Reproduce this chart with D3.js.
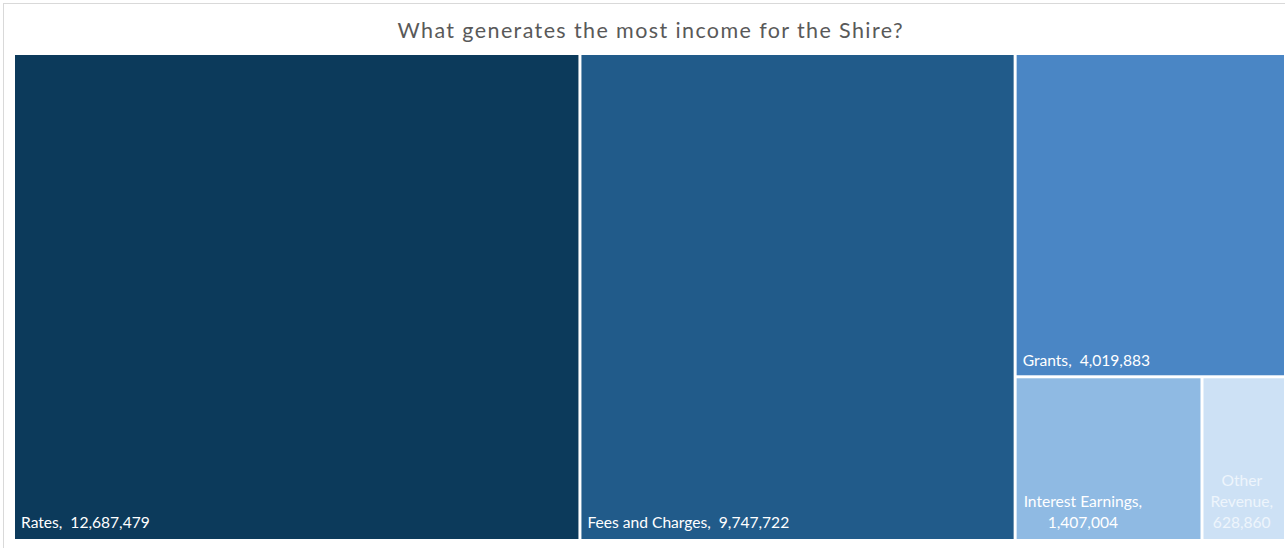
<!DOCTYPE html>
<html>
<head>
<meta charset="utf-8">
<script src="https://cdn.jsdelivr.net/npm/d3@7"></script>
<style>
  body { margin: 0; background: #fff; }
  svg text { font-family: Lato, "Open Sans", sans-serif; }
</style>
</head>
<body>
<div id="chart"></div>
<script>
//- Data
const categories = ["Rates", "Fees and Charges", "Grants", "Interest Earnings", "Other Revenue"];
const values = [12687479, 9747722, 4019883, 1407004, 628860];
const colours = ["#0c3a5b", "#215b8a", "#4a86c5", "#8fbae3", "#cde1f5"];
const labelColours = ["#ffffff", "#ffffff", "#ffffff", "#ffffff", "#eef5fc"];

const TITLE = "What generates the most income for the Shire?";

//- Layout
const svgWidth = 1285, svgHeight = 548;
const area = { left: 15, top: 55, right: 1284, bottom: 539 };
const LABELSIZE = "15.6px";

const svg = d3.select("#chart").append("svg")
    .attr("width", svgWidth)
    .attr("height", svgHeight);

// chart border
svg.append("rect")
    .attr("x", 3.5).attr("y", 3.5)
    .attr("width", svgWidth + 10).attr("height", svgHeight + 10)
    .attr("fill", "none")
    .attr("stroke", "#d9d9d9");

// title; Calibri is not available so stretch the spacing to its width
svg.append("text")
    .attr("x", 650).attr("y", 38)
    .attr("text-anchor", "middle")
    .attr("fill", "#595959")
    .attr("textLength", 505)
    .attr("lengthAdjust", "spacing")
    .style("font-size", "21.5px")
    .text(TITLE);

//- Treemap
const rows = categories.map((c, i) => ({ name: c, value: values[i], colour: colours[i], label: labelColours[i] }));

const root = d3.hierarchy({ children: rows })
    .sum(d => d.value || 0)
    .sort((a, b) => b.value - a.value);

d3.treemap()
    .tile(d3.treemapSquarify.ratio(1))
    .size([area.right - area.left, area.bottom - area.top])
    .paddingInner(3)(root);

const g = svg.append("g").attr("transform", `translate(${area.left}, ${area.top})`);

const cell = g.selectAll("g.cell")
    .data(root.leaves())
    .enter().append("g")
    .attr("class", "cell");

cell.append("rect")
    .attr("x", d => d.x0)
    .attr("y", d => d.y0)
    .attr("width", d => d.x1 - d.x0)
    .attr("height", d => d.y1 - d.y0)
    .attr("fill", d => d.data.colour);

const fmt = d3.format(",");
const lineHeight = 21;

//- Labels: single line when it fits, otherwise wrapped and centred
cell.each(function(d) {
    const sel = d3.select(this);
    const w = d.x1 - d.x0;
    const full = `${d.data.name},  ${fmt(d.data.value)}`;
    const bottomGap = d.y1 < 400 ? 9 : 11;
    const t = sel.append("text")
        .attr("fill", d.data.label)
        .style("font-size", LABELSIZE)
        .attr("xml:space", "preserve");

    t.text(full).attr("x", d.x0 + 6).attr("y", d.y1 - bottomGap);
    if (t.node().getComputedTextLength() < w - 12) return;

    // wrap words into lines
    const words = `${d.data.name}, ${fmt(d.data.value)}`.split(" ");
    const lines = [];
    let cur = "";
    t.text("");
    words.forEach(wd => {
        const test = cur ? cur + " " + wd : wd;
        t.text(test);
        if (t.node().getComputedTextLength() > w - 12 && cur) {
            lines.push(cur);
            cur = wd;
        } else {
            cur = test;
        }
    });
    lines.push(cur);
    t.text(null);

    // block is left-aligned to the cell with lines centred within it
    let maxW = 0;
    const tmp = sel.append("text").style("font-size", LABELSIZE);
    lines.forEach(l => { tmp.text(l); maxW = Math.max(maxW, tmp.node().getComputedTextLength()); });
    tmp.remove();
    const cx = d.x0 + 7 + maxW / 2;
    t.attr("text-anchor", "middle");
    lines.forEach((l, i) => {
        t.append("tspan")
            .attr("x", cx)
            .attr("y", d.y1 - 11 - (lines.length - 1 - i) * lineHeight)
            .text(l);
    });
});
</script>
</body>
</html>
